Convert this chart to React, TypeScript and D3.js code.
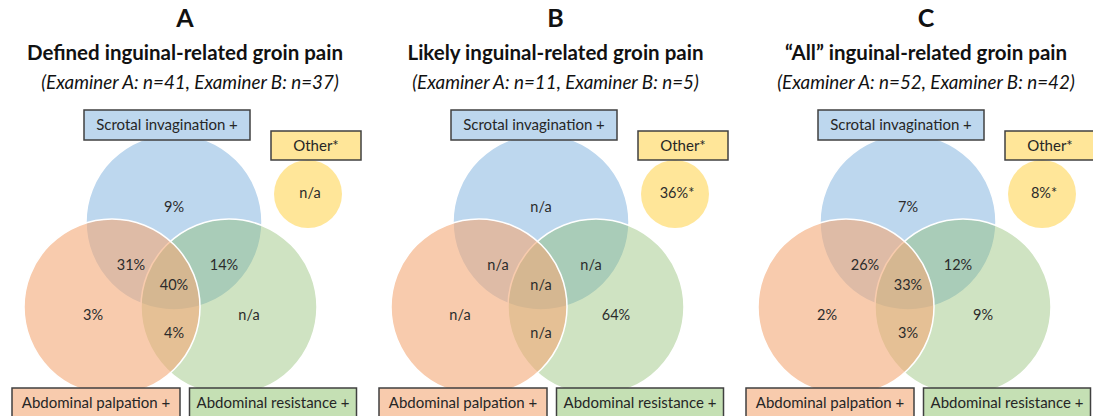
import React, { useRef, useEffect } from "react";
import * as d3 from "d3";

const panelLetters = ["A", "B", "C"];
const panelTitles = [
    "Defined inguinal-related groin pain",
    "Likely inguinal-related groin pain",
    "\u201CAll\u201D inguinal-related groin pain",
];
const panelSubtitles = [
    "(Examiner A: n=41, Examiner B: n=37)",
    "(Examiner A: n=11, Examiner B: n=5)",
    "(Examiner A: n=52, Examiner B: n=42)",
];
const setNames = ["Scrotal invagination +", "Abdominal palpation +", "Abdominal resistance +", "Other*"];

// region values per panel (A, B, C)
const scrotalOnly = ["9%", "n/a", "7%"];
const scrotalPalpation = ["31%", "n/a", "26%"];
const scrotalResistance = ["14%", "n/a", "12%"];
const allThree = ["40%", "n/a", "33%"];
const palpationOnly = ["3%", "n/a", "2%"];
const resistanceOnly = ["n/a", "64%", "9%"];
const palpationResistance = ["4%", "n/a", "3%"];
const otherOnly = ["n/a", "36%*", "8%*"];

const W = 1093;
const H = 416;
const FONT = "Lato, 'Open Sans', sans-serif";

const App = () => {
    const svgRef = useRef(null);

    useEffect(() => {
        const svg = d3.select(svgRef.current);
        svg.selectAll("*").remove();

        // title centres and venn anchor (blue circle centre) per panel
        const titleX = d3.scalePoint().domain(panelLetters).range([185, 926]);
        const vennX = d3.scalePoint().domain(panelLetters).range([174, 908]);
        const r = 88;

        panelLetters.forEach((letter, i) => {
            const tx = titleX(letter);
            const bx = vennX(letter);
            const g = svg.append("g");

            g.append("text")
                .attr("x", tx).attr("y", 27)
                .attr("text-anchor", "middle")
                .attr("font-family", FONT).attr("font-weight", 700)
                .attr("font-size", 25).attr("fill", "#111")
                .text(letter);
            g.append("text")
                .attr("x", tx).attr("y", 60)
                .attr("text-anchor", "middle")
                .attr("font-family", FONT).attr("font-weight", 700)
                .attr("font-size", 20.5).attr("fill", "#111")
                .text(panelTitles[i]);
            g.append("text")
                .attr("x", tx + (i === 0 ? 5 : 0)).attr("y", 89)
                .attr("text-anchor", "middle")
                .attr("font-family", FONT).attr("font-style", "italic")
                .attr("font-size", 18.8).attr("fill", "#111")
                .text(panelSubtitles[i]);

            // circles
            const circles = [
                { cx: bx, cy: 222, fill: "#bdd7ee", op: 1 },
                { cx: bx + 55, cy: 307, fill: "#8cbc6e", op: 0.42 },
                { cx: bx - 62, cy: 307, fill: "#f3a876", op: 0.6 },
            ];
            g.selectAll(".venn")
                .data(circles)
                .enter()
                .append("circle")
                .attr("cx", d => d.cx).attr("cy", d => d.cy).attr("r", r)
                .attr("fill", d => d.fill).attr("fill-opacity", d => d.op)
                .attr("stroke", "#fff").attr("stroke-width", 1.5);

            g.append("circle")
                .attr("cx", bx + 134).attr("cy", 194).attr("r", 34)
                .attr("fill", "#ffe699");

            // set label boxes
            const boxes = [
                { name: setNames[0], cx: bx - 7, y: 110, w: 166, h: 30, fill: "#bdd7ee" },
                { name: setNames[1], cx: bx - 78, y: 388, w: 168, h: 34, fill: "#f8cbad" },
                { name: setNames[2], cx: bx + 99, y: 388, w: 167, h: 34, fill: "#c5e0b4" },
                { name: setNames[3], cx: bx + 142, y: 131, w: 90, h: 29, fill: "#ffe699" },
            ];
            const bg = g.selectAll(".box").data(boxes).enter().append("g");
            bg.append("rect")
                .attr("x", d => d.cx - d.w / 2).attr("y", d => d.y)
                .attr("width", d => d.w).attr("height", d => d.h)
                .attr("fill", d => d.fill)
                .attr("stroke", "#404040").attr("stroke-width", 1.5);
            bg.append("text")
                .attr("x", d => d.cx).attr("y", d => d.y + 20)
                .attr("text-anchor", "middle")
                .attr("font-family", FONT).attr("font-size", 15).attr("fill", "#262626")
                .text(d => d.name);

            // region labels
            const labels = [
                { t: scrotalOnly[i], x: bx, y: 207 },
                { t: scrotalPalpation[i], x: bx - 43, y: 265 },
                { t: scrotalResistance[i], x: bx + 50, y: 265 },
                { t: allThree[i], x: bx, y: 285 },
                { t: palpationOnly[i], x: bx - 81, y: 315 },
                { t: resistanceOnly[i], x: bx + 75, y: 315 },
                { t: palpationResistance[i], x: bx, y: 333 },
                { t: otherOnly[i], x: bx + 136, y: 193 },
            ];
            g.selectAll(".lbl")
                .data(labels)
                .enter()
                .append("text")
                .attr("x", d => d.x).attr("y", d => d.y)
                .attr("dy", "0.35em")
                .attr("text-anchor", "middle")
                .attr("font-family", FONT).attr("font-size", 14.5).attr("fill", "#2b2b2b")
                .text(d => d.t);
        });
    }, []);

    return (
        <svg
            ref={svgRef}
            width={W}
            height={H}
            style={{ position: "absolute", left: 0, top: 0, background: "#fff" }}
        />
    );
};

export default App;
